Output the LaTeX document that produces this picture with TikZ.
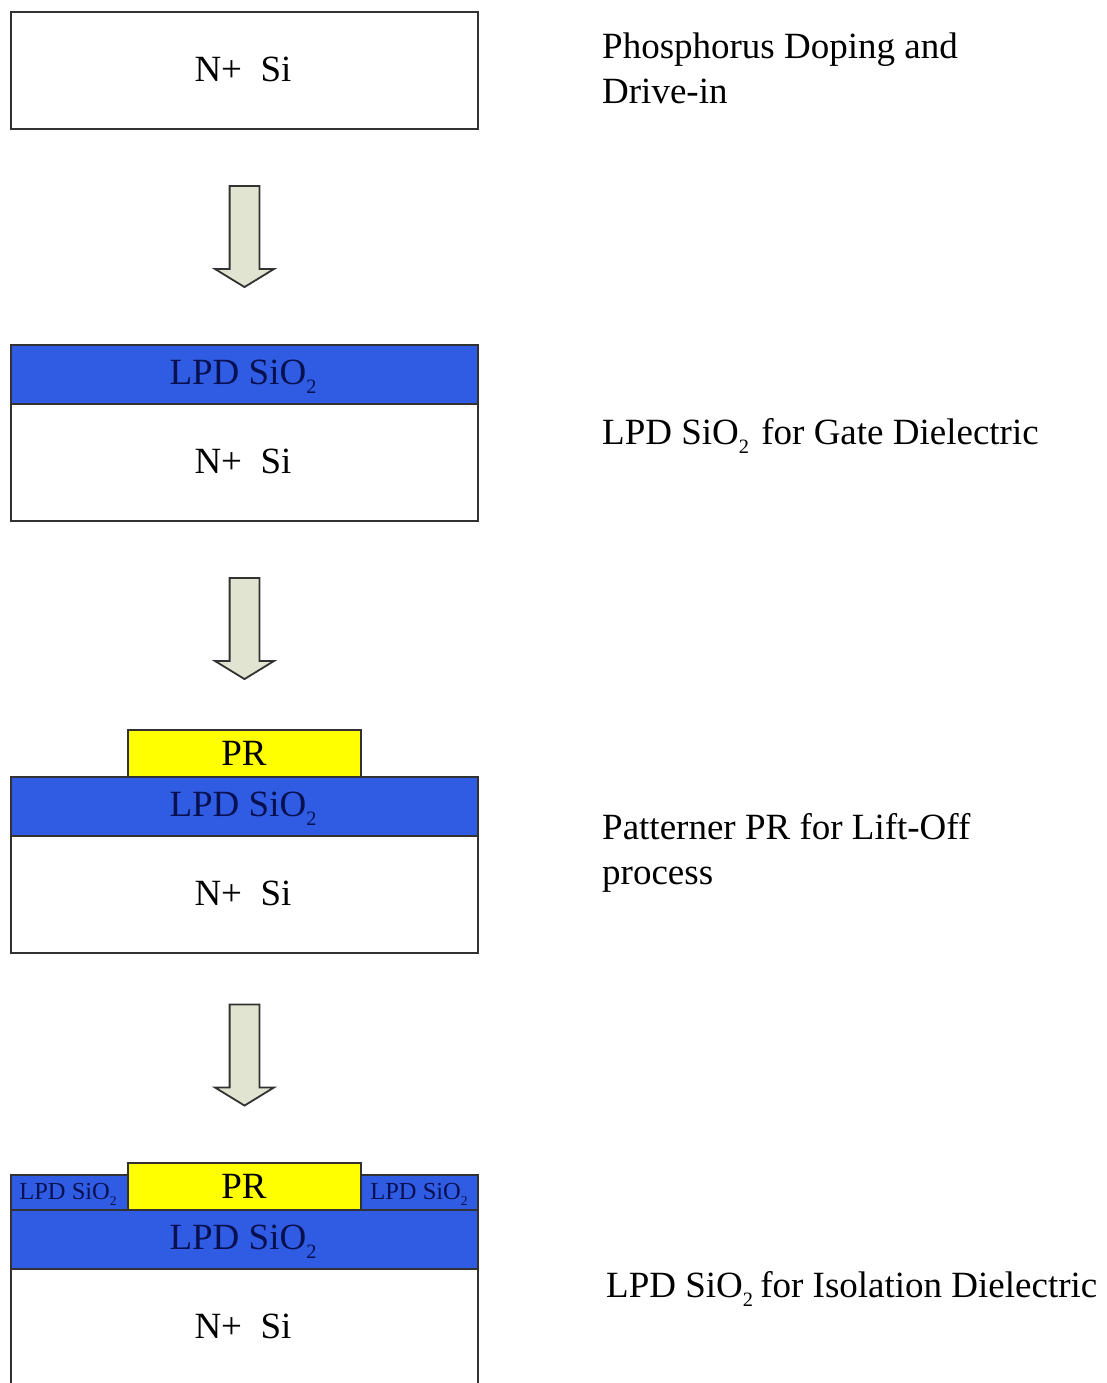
\documentclass[tikz,border=0pt]{standalone}
\usepackage{fontspec}
\setmainfont{Liberation Serif}
\usetikzlibrary{shapes.arrows}
\definecolor{oxide}{RGB}{48,92,228}
\definecolor{resist}{RGB}{255,255,0}
\definecolor{arrowfill}{RGB}{226,228,210}
\definecolor{edgegray}{RGB}{50,50,50}
\definecolor{oxtext}{RGB}{8,16,80}
\newcommand{\sioo}{SiO\raisebox{-0.25em}{\scalebox{0.55}{2}}}
\tikzset{
  x=1pt,y=-1pt,
  layer/.style={draw=edgegray,line width=1.9pt,inner sep=0pt,outer sep=0pt,anchor=north west},
  sibox/.style={layer,fill=white,minimum width=467pt,minimum height=117pt},
  oxbox/.style={layer,fill=oxide,minimum width=467pt,minimum height=59pt},
  prbox/.style={layer,fill=resist,minimum width=233pt,minimum height=47pt},
  sidebox/.style={layer,fill=oxide,minimum width=117pt,minimum height=35pt},
  bigtext/.style={inner sep=0pt,font=\fontsize{37}{37}\selectfont},
  oxlabel/.style={bigtext,text=oxtext},
  smalltext/.style={inner sep=0pt,text=oxtext,font=\fontsize{24.5}{24.5}\selectfont},
  downarrow/.style={single arrow,draw=edgegray,fill=arrowfill,line width=1.8pt,inner sep=14pt,outer sep=0pt,
    minimum height=101pt,minimum width=57pt,single arrow head extend=14.5pt,single arrow tip angle=117,
    single arrow head indent=0pt,shape border rotate=270,anchor=center},
  steplabel/.style={anchor=north west,inner sep=0pt,align=left,font=\fontsize{37}{45}\selectfont},
}
\begin{document}
\begin{tikzpicture}
\useasboundingbox (0,0) rectangle (1106,1383);
\clip (0,0) rectangle (1106,1383);
% stage 1
\node[sibox] (si1) at (11,12) {};
\node[bigtext] (si1t) at (243,69) {N+\ \ Si};
\node[downarrow] (a1) at (244.5,232) {};
% stage 2
\node[oxbox] (ox2) at (11,345) {};
\node[oxlabel] (ox2t) at (243,377) {LPD \sioo};
\node[sibox] (si2) at (11,404) {};
\node[bigtext] (si2t) at (243,461) {N+\ \ Si};
\node[downarrow] (a2) at (244.5,624) {};
% stage 3
\node[prbox] (pr3) at (128,730) {};
\node[bigtext] (pr3t) at (244,753) {PR};
\node[oxbox] (ox3) at (11,777) {};
\node[oxlabel] (ox3t) at (243,809) {LPD \sioo};
\node[sibox] (si3) at (11,836) {};
\node[bigtext] (si3t) at (243,893) {N+\ \ Si};
\node[downarrow] (a3) at (244.5,1050.5) {};
% stage 4
\node[sidebox] (sl) at (11,1175) {};
\node[smalltext] (slt) at (68,1194) {LPD \sioo};
\node[sidebox] (sr) at (361,1175) {};
\node[smalltext] (srt) at (419,1194) {LPD \sioo};
\node[prbox] (pr4) at (128,1163) {};
\node[bigtext] (pr4t) at (244,1186) {PR};
\node[oxbox] (ox4) at (11,1210) {};
\node[oxlabel] (ox4t) at (243,1242) {LPD \sioo};
\node[sibox] (si4) at (11,1269) {};
\node[bigtext] (si4t) at (243,1326) {N+\ \ Si};
% labels
\node[steplabel] (l1) at (602,33) {Phosphorus Doping and\\Drive-in};
\node[steplabel] (l2) at (602,418) {LPD \sioo{}\hspace{3pt} for Gate Dielectric};
\node[steplabel] (l3) at (602,813) {Patterner PR for Lift-Off\\process};
\node[steplabel] (l4) at (606,1271) {LPD \sioo{}\hspace{-2pt} for Isolation Dielectric};
\end{tikzpicture}
\end{document}
